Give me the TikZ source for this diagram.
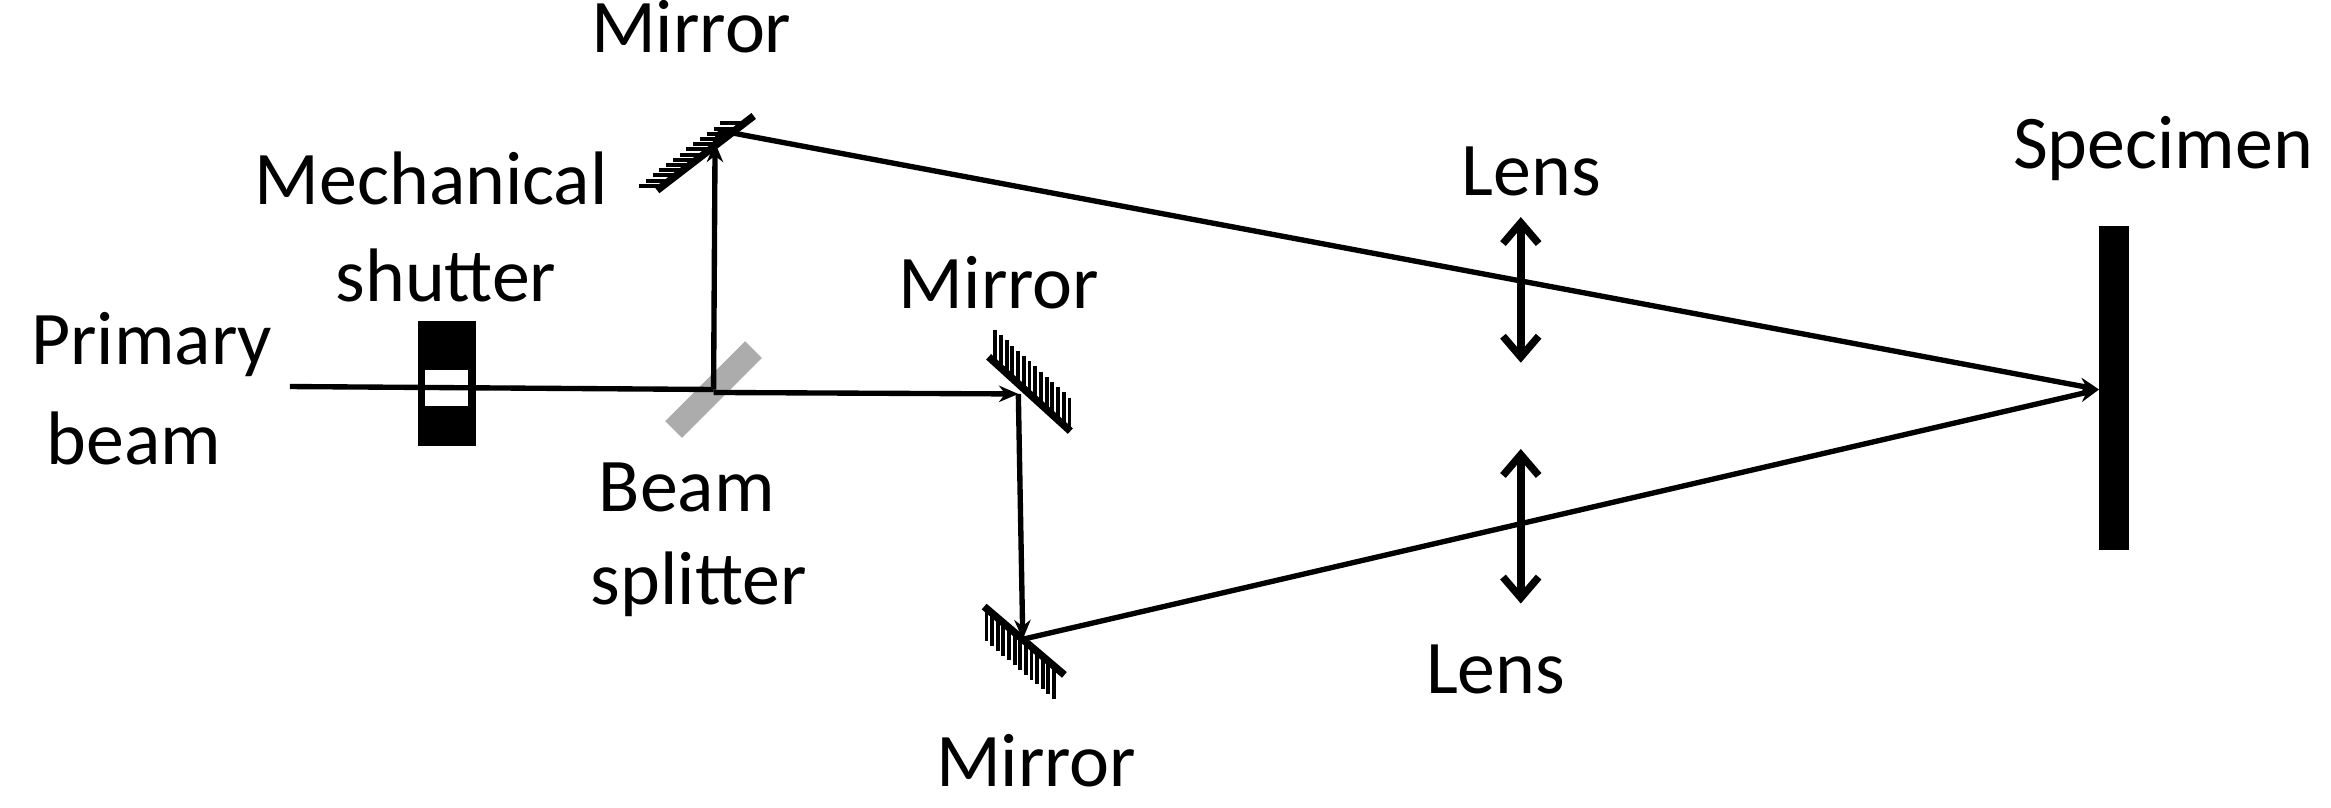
\documentclass[tikz,border=0pt]{standalone}
\usepackage{fontspec}
\setmainfont{Carlito}
\usetikzlibrary{arrows.meta,calc}
\begin{document}
\begin{tikzpicture}[x=1pt,y=-1pt,
  lbl/.style={font=\fontsize{51}{53}\selectfont,align=center,inner sep=0pt},
  ray/.style={line width=3.6pt,-{Stealth[length=13pt,width=11pt]}},
  lens/.style={line width=5pt,{Straight Barb[length=14pt,width=24pt,line width=5pt]}-{Straight Barb[length=14pt,width=24pt,line width=5pt]}},
  mir/.style={line width=5pt},
  hat/.style={line width=2.6pt}]
\useasboundingbox (0,0) rectangle (1568,543.4);
% coordinates
\coordinate (src) at (195,260);
\coordinate (bs) at (480,262);
\coordinate (m1) at (481,96);
\coordinate (m2) at (685,265);
\coordinate (m3) at (688,430);
\coordinate (spec) at (1412,262);
% shutter
\fill (281,216) rectangle (320,300);
\fill[white] (286,249) rectangle (315,273);
% beam splitter
\fill[gray!65] ($(bs)+(-45:38)+(45:8)$) -- ($(bs)+(-45:38)+(225:8)$) -- ($(bs)+(135:38)+(225:8)$) -- ($(bs)+(135:38)+(45:8)$) -- cycle;
% mirror 1
\draw[mir] (442,128) -- (507,78);
\foreach \t in {0.06,0.13,...,0.96} \draw[hat] ($(442,128)!\t!(507,78)$) -- ++(-16,0);
% mirror 2
\draw[mir] (665,240) -- (720,290);
\foreach \t in {0.08,0.15,...,0.99} \draw[hat] ($(665,240)!\t!(720,290)$) -- ++(0,-22);
% mirror 3
\draw[mir] (662,408) -- (716,454);
\foreach \t in {0.03,0.10,...,0.92} \draw[hat] ($(662,408)!\t!(716,454)$) -- ++(0,22);
% specimen
\fill (1412,152) rectangle (1432,370);
% rays
\draw[line width=3.6pt] (src) -- (bs);
\draw[ray] (bs) -- (m1);
\draw[ray] ($(bs)+(0,2)$) -- (m2);
\draw[ray] (m2) -- (m3);
\draw[line width=3.6pt] (m1) -- (485,88);
\draw[ray] (485,88) -- (spec);
\draw[ray] (m3) -- (spec);
% lenses
\draw[lens] (1023,146) -- (1023,244);
\draw[lens] (1023,302) -- (1023,406);
% labels
\node[lbl] (t1) at (465,18) {Mirror};
\node[lbl] (t2) at (290,120) {Mechanical};
\node[lbl] (t3) at (300,185) {shutter};
\node[lbl] (t4) at (102,232) {Primary};
\node[lbl] (t5) at (90,295) {beam};
\node[lbl] (t6) at (672,190) {Mirror};
\node[lbl] (t7) at (462,328) {Beam};
\node[lbl] (t8) at (470,393) {splitter};
\node[lbl] (t9) at (697,512) {Mirror};
\node[lbl] (t10) at (1030,115) {Lens};
\node[lbl] (t11) at (1006,450) {Lens};
\node[lbl] (t12) at (1455,100) {Specimen};
\end{tikzpicture}
\end{document}
